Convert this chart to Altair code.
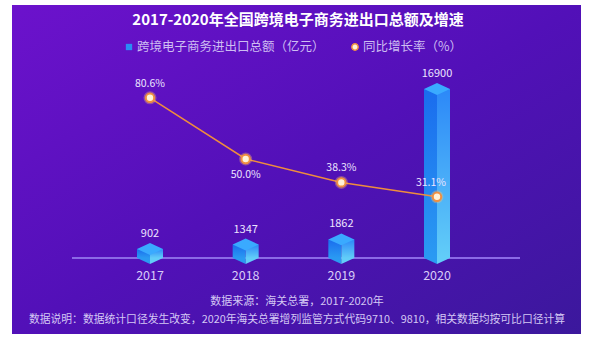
import altair as alt
import pandas as pd

years = ["2017", "2018", "2019", "2020"]
amount = [902, 1347, 1862, 16900]
growth = [80.6, 50.0, 38.3, 31.1]
growth_labels = ["80.6%", "50.0%", "38.3%", "31.1%"]
label_pos = ["above", "below", "above", "left"]

title_text = "2017-2020年全国跨境电子商务进出口总额及增速"
legend_labels = ["跨境电子商务进出口总额（亿元）", "同比增长率（%）"]
footer_lines = [
    "数据来源：海关总署，2017-2020年",
    "数据说明：数据统计口径发生改变，2020年海关总署增列监管方式代码9710、9810，相关数据均按可比口径计算",
]

FONT = "Noto Sans CJK SC"

df = pd.DataFrame({"year": years, "amount": amount, "growth": growth,
                   "glabel": growth_labels, "pos": label_pos})

xs = alt.Scale(type="point", domain=years, range=[150, 437], padding=0)
ys_bar = alt.Scale(domain=[0, 20000], range=[258, 58])
ys_pct = alt.Scale(domain=[0, 100], range=[259, 59])

one = pd.DataFrame({"a": [0]})

# background panel
bg = alt.Chart(one).mark_rect(
    color=alt.Gradient(gradient="linear", x1=0, y1=0, x2=1, y2=1,
                       stops=[alt.GradientStop(color="#6c12cc", offset=0),
                              alt.GradientStop(color="#5210b8", offset=0.5),
                              alt.GradientStop(color="#3b189c", offset=1)])
).encode(x=alt.value(12), x2=alt.value(581), y=alt.value(5), y2=alt.value(334))

baseline = alt.Chart(one).mark_rule(color="#8b6ae6", strokeWidth=2).encode(
    x=alt.value(72), x2=alt.value(520), y=alt.value(258))

base = alt.Chart(df).encode(x=alt.X("year:N", scale=xs, axis=None))

left_face = base.mark_bar(
    width=13, xOffset=-6.5,
    color=alt.Gradient(gradient="linear", x1=0, y1=0, x2=0, y2=1,
                       stops=[alt.GradientStop(color="#1a6cee", offset=0),
                              alt.GradientStop(color="#2a9af2", offset=1)])
).encode(y=alt.Y("amount:Q", scale=ys_bar, axis=None))

right_face = base.mark_bar(
    width=13, xOffset=6.5,
    color=alt.Gradient(gradient="linear", x1=0, y1=0, x2=0, y2=1,
                       stops=[alt.GradientStop(color="#2c88f8", offset=0),
                              alt.GradientStop(color="#62cdf8", offset=1)])
).encode(y=alt.Y("amount:Q", scale=ys_bar, axis=None))

bottom_left = base.mark_point(
    shape="M -1 0 L 0 0 L 0 0.46 Z", filled=True, size=676, opacity=1,
    color="#2a9af2", strokeWidth=0
).encode(y=alt.Y(datum=0, scale=ys_bar, axis=None))

bottom_right = base.mark_point(
    shape="M 0 0 L 1 0 L 0 0.46 Z", filled=True, size=676, opacity=1,
    color="#62cdf8", strokeWidth=0
).encode(y=alt.Y(datum=0, scale=ys_bar, axis=None))

cap = base.mark_point(
    shape="M -1 0 L 0 -0.46 L 1 0 L 0 0.46 Z", filled=True, size=676, opacity=1,
    color="#3aaaff", strokeWidth=0
).encode(y=alt.Y("amount:Q", scale=ys_bar, axis=None))

bar_labels = base.mark_text(
    font=FONT, fontSize=11, color="#ece4ff", dy=-15, baseline="middle"
).encode(y=alt.Y("amount:Q", scale=ys_bar, axis=None), text="amount:Q")

year_labels = base.mark_text(
    font=FONT, fontSize=12.5, color="#d8cbf7", baseline="middle"
).encode(y=alt.value(276), text="year:N")

bar_group = alt.layer(left_face, right_face, bottom_left, bottom_right, cap,
                      bar_labels, year_labels)

line = base.mark_line(color="#ef8d3c", strokeWidth=1.5).encode(
    y=alt.Y("growth:Q", scale=ys_pct, axis=None))
glow = base.mark_point(filled=True, color="#ffc070", opacity=0.35, size=170).encode(
    y=alt.Y("growth:Q", scale=ys_pct, axis=None))
pts = base.mark_point(filled=True, fill="#fff3d8", stroke="#f09040",
                      strokeWidth=2, opacity=1, size=70).encode(
    y=alt.Y("growth:Q", scale=ys_pct, axis=None))

def glabel(pos, dx, dy):
    return base.transform_filter(alt.datum.pos == pos).mark_text(
        font=FONT, fontSize=10.5, color="#ece4ff", dx=dx, dy=dy, baseline="middle"
    ).encode(y=alt.Y("growth:Q", scale=ys_pct, axis=None), text="glabel:N")

pct_group = alt.layer(line, glow, pts,
                      glabel("above", 0, -14), glabel("below", 0, 16),
                      glabel("left", -6, -14))

title = alt.Chart(pd.DataFrame({"t": [title_text]})).mark_text(
    font=FONT, fontSize=15, fontWeight="bold", color="#ffffff", baseline="middle"
).encode(text="t:N", x=alt.value(298), y=alt.value(20))

leg_sq = alt.Chart(one).mark_square(filled=True, color="#2a8cf5", size=40, opacity=1).encode(
    x=alt.value(129), y=alt.value(47))
leg_t1 = alt.Chart(pd.DataFrame({"t": [legend_labels[0]]})).mark_text(
    font=FONT, fontSize=12.5, color="#cdbdf2", align="left", baseline="middle"
).encode(text="t:N", x=alt.value(137), y=alt.value(47))
leg_c = alt.Chart(one).mark_point(filled=True, fill="#fff3d8", stroke="#f09040",
                                  strokeWidth=1.5, size=40, opacity=1).encode(
    x=alt.value(355), y=alt.value(47))
leg_t2 = alt.Chart(pd.DataFrame({"t": [legend_labels[1]]})).mark_text(
    font=FONT, fontSize=12.5, color="#cdbdf2", align="left", baseline="middle"
).encode(text="t:N", x=alt.value(363), y=alt.value(47))

foot1 = alt.Chart(pd.DataFrame({"t": [footer_lines[0]]})).mark_text(
    font=FONT, fontSize=11, color="#d4c8f4", baseline="middle"
).encode(text="t:N", x=alt.value(297), y=alt.value(302))
foot2 = alt.Chart(pd.DataFrame({"t": [footer_lines[1]]})).mark_text(
    font=FONT, fontSize=10.8, color="#d4c8f4", baseline="middle"
).encode(text="t:N", x=alt.value(297), y=alt.value(320))

chart = alt.layer(
    bg, baseline, bar_group, pct_group, title, leg_sq, leg_t1, leg_c, leg_t2, foot1, foot2
).resolve_scale(y="independent").properties(
    width=600, height=341, padding=0, background="#ffffff",
    autosize=alt.AutoSizeParams(type="none")
).configure_view(stroke=None)

chart.save("out.html", embed_options={"renderer": "svg", "actions": False})
